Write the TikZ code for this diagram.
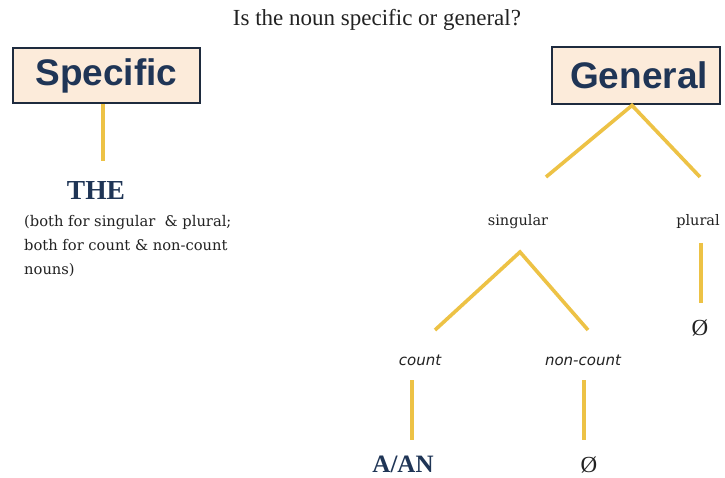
\documentclass[tikz,border=0pt]{standalone}
\usepackage{fontspec}
\setmainfont{Liberation Serif}
\newfontfamily\headfont{Liberation Sans}
\newfontfamily\obqfont{DejaVu Sans}
\newfontfamily\slabfont{DejaVu Serif}
\definecolor{navy}{HTML}{1E2B3E}
\definecolor{inknavy}{HTML}{1F3556}
\definecolor{peach}{HTML}{FCEBDA}
\definecolor{gold}{HTML}{EDC245}
\definecolor{ink}{HTML}{222222}
\begin{document}
\begin{tikzpicture}[x=1pt,y=-1pt]
 \tikzset{
   box/.style={draw=navy, line width=2.8pt, fill=peach, inner sep=0pt,
     font=\headfont\bfseries\fontsize{37}{40}\selectfont, text=inknavy},
   stem/.style={draw=gold, line width=3.6pt},
   word/.style={font=\slabfont\fontsize{14.5}{17}\selectfont, text=ink, inner sep=1pt},
   kind/.style={font=\obqfont\itshape\fontsize{15}{17}\selectfont, text=ink, inner sep=1pt},
   art/.style={font=\bfseries\fontsize{25}{27}\selectfont, text=inknavy, inner sep=0pt},
   zero/.style={font=\fontsize{23}{25}\selectfont, text=ink, inner sep=0pt}
 }
 \useasboundingbox[fill=white](0,0)rectangle(725,478);
 \node[font=\fontsize{23}{26}\selectfont, text=ink] (q) at (377,20) {Is the noun specific or general?};
 % left branch
 \node[box, minimum width=187pt, minimum height=55pt] (spec) at (106.5,75.5) {Specific};
 \node[art, font=\bfseries\fontsize{27.5}{28}\selectfont] (the) at (96,190) {THE};
 \node[word, anchor=west, align=left, font=\slabfont\fontsize{14.7}{24}\selectfont] (note) at (23,246)
   {(both for singular\ \ \& plural;\\ both for count\ \& non-count\\ nouns)};
 \coordinate (sbot) at ([xshift=-3.5pt]spec.south);
 \draw[stem](sbot)--++(0,57);
 % right branch
 \node[box, minimum width=168pt, minimum height=57pt] (gen) at (636,75.5) {\hspace*{6pt}General};
 \node[word] (sing) at (518,222) {singular};
 \node[word] (plur) at (698,222) {plural};
 \coordinate (gtop) at ([xshift=-4pt]gen.south);
 \coordinate (gl) at (546,177);
 \coordinate (gr) at (700,177);
 \draw[stem](gl)--(gtop)--(gr);
 \node[zero] (z1) at (700,328) {Ø};
 \draw[stem](701,243)--(701,303);
 \coordinate (stop) at (520,252);
 \coordinate (sl) at (435,330);
 \coordinate (sr) at (588,330);
 \draw[stem](sl)--(stop)--(sr);
 \node[kind] (cnt) at (420,360) {count};
 \node[kind] (ncnt) at (583,360) {non-count};
 \node[art] (aan) at (403,464) {A/AN};
 \node[zero] (z2) at (589,465) {Ø};
 \draw[stem](412,380)--(412,440);
 \draw[stem](584,380)--(584,440);
\end{tikzpicture}
\end{document}
